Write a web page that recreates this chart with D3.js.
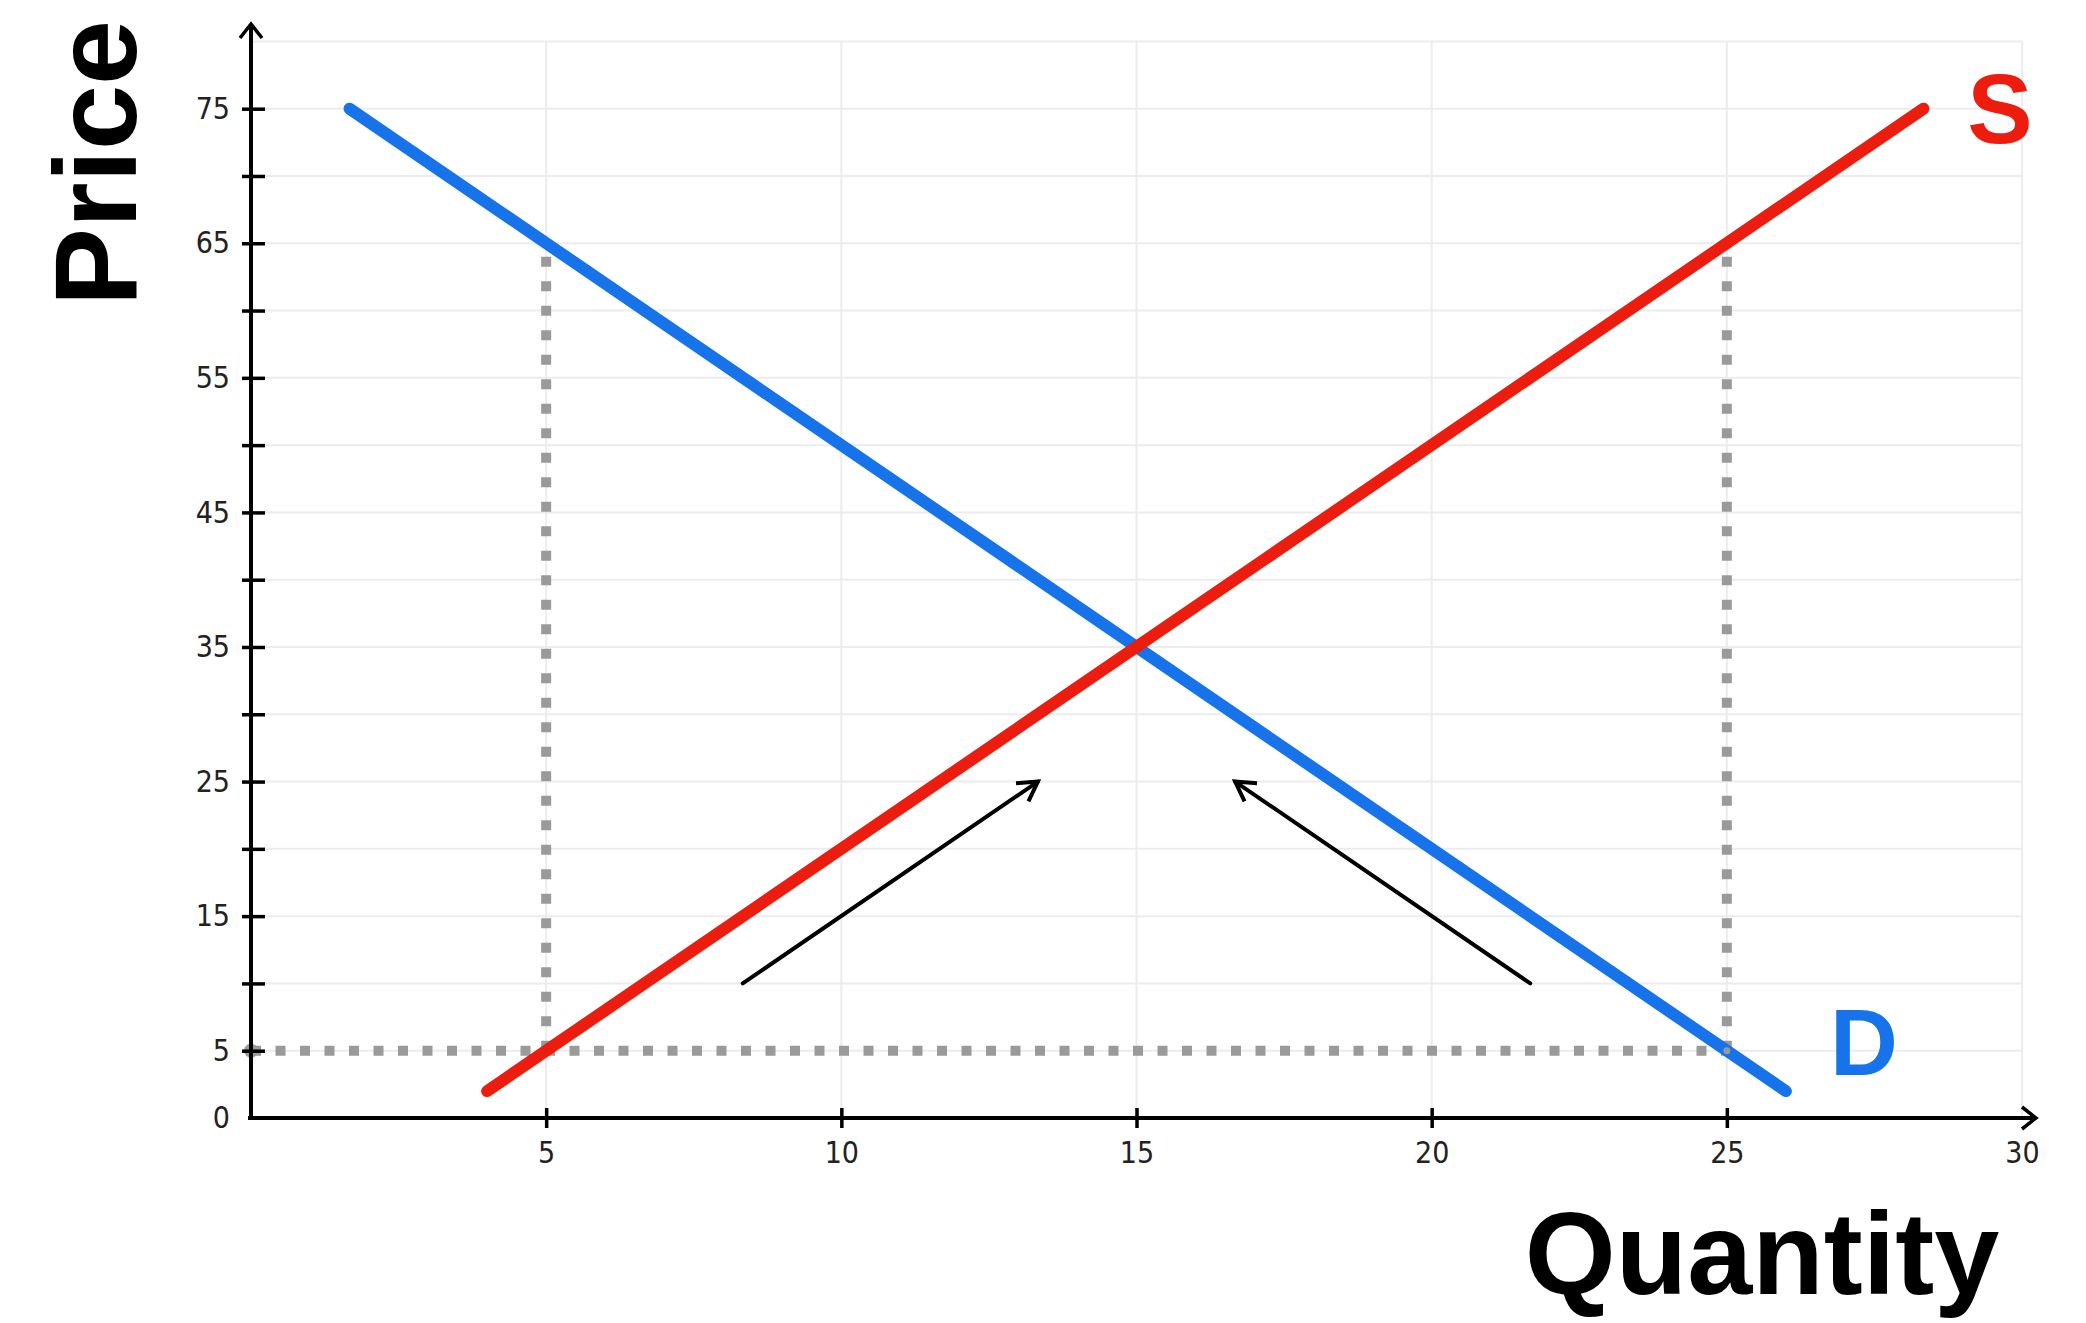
<!DOCTYPE html>
<html>
<head>
<meta charset="utf-8">
<script src="https://cdn.jsdelivr.net/npm/d3@7"></script>
<style>
  html, body { margin: 0; padding: 0; background: #fff; }
  svg { display: block; }
  .tick text { font-family: "Liberation Sans Narrow", "DejaVu Sans Condensed", "Liberation Sans", sans-serif; }
</style>
</head>
<body>
<div id="chart"></div>
<script>
// ===========================
// Supply & Demand diagram
// ===========================

// data (quantity, price)
const supplyLine = [{ q: 4, p: 2 }, { q: 28.33, p: 75 }];
const demandLine = [{ q: 1.67, p: 75 }, { q: 26, p: 2 }];
const guideLines = [
    [{ q: 0, p: 5 }, { q: 25, p: 5 }],
    [{ q: 5, p: 5 }, { q: 5, p: 65 }],
    [{ q: 25, p: 5 }, { q: 25, p: 65 }]
];
const moveArrows = [
    [{ q: 8.33, p: 10 }, { q: 13.33, p: 25 }],
    [{ q: 21.67, p: 10 }, { q: 16.67, p: 25 }]
];
const xTickValues = [5, 10, 15, 20, 25, 30];
const yTickValues = [0, 5, 10, 15, 20, 25, 30, 35, 40, 45, 50, 55, 60, 65, 70, 75];
const yTickLabels = [0, 5, 15, 25, 35, 45, 55, 65, 75];
const gridX = [5, 10, 15, 20, 25, 30];
const gridY = [5, 10, 15, 20, 25, 30, 35, 40, 45, 50, 55, 60, 65, 70, 75, 80];

const width = 2086, height = 1323;
const colors = { supply: '#ec1c0e', demand: '#1673ea', guide: '#9a9a9a' };

const svg = d3.select('#chart')
    .append('svg')
    .attr('width', width)
    .attr('height', height);

const xScale = d3.scaleLinear().domain([0, 30]).range([251, 2022]);
const yScale = d3.scaleLinear().domain([0, 80]).range([1118, 41.4]);

const defs = svg.append('defs');
defs.append('marker')
    .attr('id', 'head')
    .attr('viewBox', '-24 -16 32 32')
    .attr('markerWidth', 32)
    .attr('markerHeight', 32)
    .attr('markerUnits', 'userSpaceOnUse')
    .attr('orient', 'auto')
    .append('path')
    .attr('d', 'M-19,-11 L0,0 L-19,11')
    .attr('fill', 'none')
    .attr('stroke', '#000')
    .attr('stroke-width', 4);

defs.append('marker')
    .attr('id', 'axisHead')
    .attr('viewBox', '-20 -16 28 32')
    .attr('markerWidth', 28)
    .attr('markerHeight', 32)
    .attr('markerUnits', 'userSpaceOnUse')
    .attr('orient', 'auto')
    .append('path')
    .attr('d', 'M-14,-11 L0,0 L-14,11')
    .attr('fill', 'none')
    .attr('stroke', '#000')
    .attr('stroke-width', 3.5);

// grid
const grid = svg.append('g').attr('class', 'grid');
grid.selectAll('.gx')
    .data(gridX)
    .join('line')
    .attr('x1', d => xScale(d)).attr('x2', d => xScale(d))
    .attr('y1', yScale(0)).attr('y2', yScale(80))
    .attr('stroke', '#ececec').attr('stroke-width', 2);
grid.selectAll('.gy')
    .data(gridY)
    .join('line')
    .attr('x1', xScale(0)).attr('x2', xScale(30))
    .attr('y1', d => yScale(d)).attr('y2', d => yScale(d))
    .attr('stroke', '#ececec').attr('stroke-width', 2);

const line = d3.line().x(d => xScale(d.q)).y(d => yScale(d.p));

// dotted guides
svg.append('g').selectAll('path')
    .data(guideLines)
    .join('path')
    .attr('d', line)
    .attr('fill', 'none')
    .attr('stroke', colors.guide)
    .attr('stroke-width', 10)
    .attr('stroke-dasharray', '10 14.5');
svg.append('circle')
    .attr('cx', xScale(guideLines[0][0].q))
    .attr('cy', yScale(guideLines[0][0].p))
    .attr('r', 7)
    .attr('fill', colors.guide);

// axes
const xAxis = svg.append('g')
    .attr('transform', `translate(0,${yScale(0)})`)
    .call(d3.axisBottom(xScale).tickValues(xTickValues).tickSize(10).tickPadding(14));
xAxis.select('.domain').remove();
xAxis.selectAll('.tick line').attr('y1', -10).attr('stroke-width', 3.5)
    .filter(d => d === 30).remove();
xAxis.selectAll('.tick text').attr('font-size', 30).attr('fill', '#222');

const yAxis = svg.append('g')
    .attr('transform', `translate(${xScale(0)},0)`)
    .call(d3.axisLeft(yScale).tickValues(yTickValues).tickSize(9).tickPadding(12)
        .tickFormat(d => yTickLabels.includes(d) ? d : ''));
yAxis.select('.domain').remove();
yAxis.selectAll('.tick line').attr('x2', 14).attr('x1', -9).attr('stroke-width', 3.5)
    .filter(d => d === 0).remove();
yAxis.selectAll('.tick text').attr('font-size', 30).attr('fill', '#222');

svg.append('line')
    .attr('x1', xScale(0) - 3).attr('x2', 2036)
    .attr('y1', yScale(0)).attr('y2', yScale(0))
    .attr('stroke', '#000').attr('stroke-width', 4)
    .attr('marker-end', 'url(#axisHead)');
svg.append('line')
    .attr('x1', xScale(0)).attr('x2', xScale(0))
    .attr('y1', yScale(0) + 2).attr('y2', 24)
    .attr('stroke', '#000').attr('stroke-width', 4)
    .attr('marker-end', 'url(#axisHead)');

// supply / demand
svg.append('path')
    .datum(demandLine)
    .attr('d', line)
    .attr('stroke', colors.demand)
    .attr('stroke-width', 12)
    .attr('stroke-linecap', 'round');
svg.append('path')
    .datum(supplyLine)
    .attr('d', line)
    .attr('stroke', colors.supply)
    .attr('stroke-width', 12)
    .attr('stroke-linecap', 'round');

// small grey dot where guide meets demand
svg.append('circle')
    .attr('cx', xScale(25)).attr('cy', yScale(5)).attr('r', 3.5)
    .attr('fill', colors.guide);

// movement arrows
svg.append('g').selectAll('path')
    .data(moveArrows)
    .join('path')
    .attr('d', line)
    .attr('fill', 'none')
    .attr('stroke', '#000')
    .attr('stroke-width', 4)
    .attr('stroke-linecap', 'round')
    .attr('marker-end', 'url(#head)');

// labels
svg.append('text')
    .attr('x', 2000).attr('y', 143)
    .attr('text-anchor', 'middle')
    .style('font-family', '"Liberation Sans", Arial, sans-serif')
    .style('font-weight', 'bold')
    .style('font-size', '98px')
    .attr('fill', colors.supply)
    .text('S');
svg.append('text')
    .attr('x', 1864).attr('y', 1075)
    .attr('text-anchor', 'middle')
    .style('font-family', '"Liberation Sans", Arial, sans-serif')
    .style('font-weight', 'bold')
    .style('font-size', '94px')
    .attr('fill', colors.demand)
    .text('D');

svg.append('text')
    .attr('transform', 'translate(136,163) rotate(-90)')
    .attr('text-anchor', 'middle')
    .style('font-family', '"Liberation Sans", Arial, sans-serif')
    .style('font-weight', 'bold')
    .style('font-size', '117px')
    .attr('fill', '#000')
    .text('Price');
svg.append('text')
    .attr('x', 1762).attr('y', 1294)
    .attr('text-anchor', 'middle')
    .style('font-family', '"Liberation Sans", Arial, sans-serif')
    .style('font-weight', 'bold')
    .style('font-size', '117px')
    .attr('fill', '#000')
    .text('Quantity');
</script>
</body>
</html>
